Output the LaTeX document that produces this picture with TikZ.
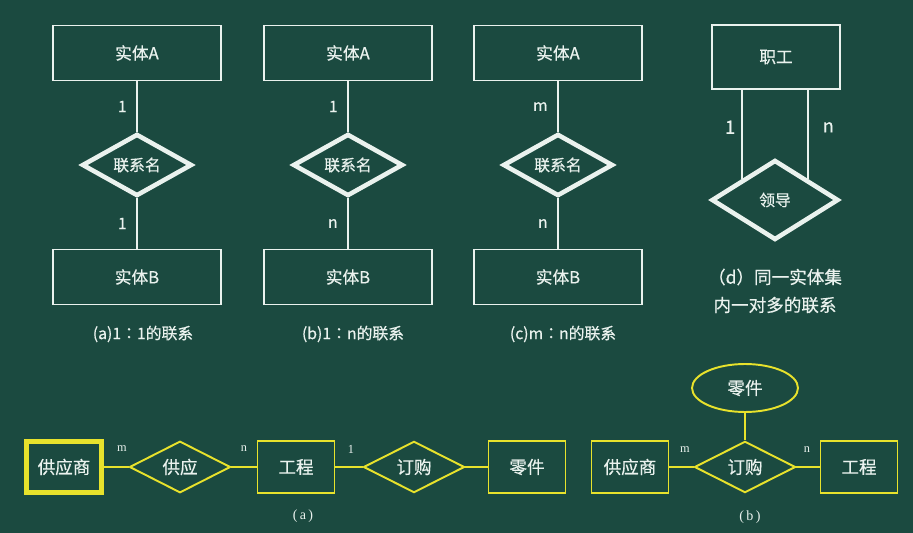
\documentclass[tikz,border=0pt]{standalone}
\usepackage{fontspec}
\setmainfont{Noto Sans CJK SC}[FakeBold=0.5]
\newfontfamily\captfont{Noto Sans CJK TC}[FakeBold=0.5]
\newfontfamily\latinserif{Liberation Serif}
\usetikzlibrary{shapes.geometric}
\definecolor{board}{HTML}{1B4A40}
\definecolor{chalk}{HTML}{EAF2EE}
\definecolor{hilite}{HTML}{E8E22C}

\begin{document}
\begin{tikzpicture}[x=0.02cm,y=-0.02cm,
			ent/.style={draw=chalk,line width=1.1pt,minimum width=3.36cm,minimum height=1.1cm,text=chalk,font=\fontsize{9.5}{11}\selectfont},
			rel/.style={diamond,draw=chalk,line width=2.6pt,inner sep=0pt,minimum width=2.2cm,minimum height=1.06cm,text=chalk,font=\fontsize{9}{11}\selectfont},
			link/.style={draw=chalk,line width=1.1pt},
			card/.style={text=chalk,font=\fontsize{9}{11}\selectfont},
			capt/.style={text=chalk,font=\captfont\fontsize{9}{11}\selectfont},
			yent/.style={draw=hilite,line width=1.1pt,minimum width=1.54cm,minimum height=1.04cm,text=chalk,font=\fontsize{10}{12}\selectfont},
			yrel/.style={diamond,draw=hilite,line width=1.1pt,inner sep=0pt,minimum width=2.02cm,minimum height=1.02cm,text=chalk,font=\fontsize{10}{12}\selectfont},
			ylink/.style={draw=hilite,line width=1.1pt},
			ycard/.style={text=chalk,font=\latinserif\fontsize{7}{8}\selectfont}]
			
			% Board
			\fill[board] (0,0) rectangle (913,533);
			\useasboundingbox (0,0) rectangle (913,533);
			
			% (a) 1:1
			\node[ent] (A1) at (137,53) {实体A};
			\node[rel] (R1) at (137,165) {联系名};
			\node[ent] (B1) at (137,277) {实体B};
			\draw[link] (A1) -- node[card,left=2pt]{1} (R1);
			\draw[link] (R1) -- node[card,left=2pt]{1} (B1);
			\node[capt] (capA) at (143,334) {(a)1：1的联系};
			
			% (b) 1:n
			\node[ent] (A2) at (348,53) {实体A};
			\node[rel] (R2) at (348,165) {联系名};
			\node[ent] (B2) at (348,277) {实体B};
			\draw[link] (A2) -- node[card,left=2pt]{1} (R2);
			\draw[link] (R2) -- node[card,left=2pt]{n} (B2);
			\node[capt] (capB) at (353,334) {(b)1：n的联系};
			
			% (c) m:n
			\node[ent] (A3) at (558,53) {实体A};
			\node[rel] (R3) at (558,165) {联系名};
			\node[ent] (B3) at (558,277) {实体B};
			\draw[link] (A3) -- node[card,left=2pt]{m} (R3);
			\draw[link] (R3) -- node[card,left=2pt]{n} (B3);
			\node[capt] (capC) at (563,334) {(c)m：n的联系};
			
			% (d) one entity set, 1:n
			\node[ent,minimum width=2.56cm,minimum height=1.28cm] (E4) at (776,57) {职工};
			\node[rel,minimum width=2.54cm,minimum height=1.6cm] (R4) at (775,200) {领导};
			\draw[link] (R4.north west |- E4.south) -- node[card,left,pos=0.42,font=\fontsize{10.5}{12}\selectfont]{1} (R4.north west);
			\draw[link] (R4.north east |- E4.south) -- node[card,right=4.5pt,pos=0.42,font=\fontsize{10.5}{12}\selectfont]{n} (R4.north east);
			\node[capt,font=\fontsize{10}{12}\selectfont] (capD1) at (775,277) {（d）同一实体集};
			\node[capt,font=\fontsize{10}{12}\selectfont] (capD2) at (775,305) {内一对多的联系};
			
			% Bottom (a): chain of two relationships
			\node[yent,line width=2.8pt,minimum width=1.5cm,minimum height=1.02cm] (S1) at (64,467) {供应商};
			\node[yrel] (G1) at (180,467) {供应};
			\node[yent] (P1) at (296,467) {工程};
			\node[yrel] (D1) at (414,467) {订购};
			\node[yent] (J1) at (527,467) {零件};
			\draw[ylink] (S1) -- (G1);
			\draw[ylink] (G1) -- (P1);
			\draw[ylink] (P1) -- (D1);
			\draw[ylink] (D1) -- (J1);
			\node[ycard] (m1) at (122,449) {m};
			\node[ycard] (n1) at (244,449) {n};
			\node[ycard] (l1) at (351,449) {1};
			\node[ycard,font=\latinserif\fontsize{8}{10}\selectfont] (capE) at (303,516) {(\,a\,)};
			
			% Bottom (b): ternary relationship
			\node[ellipse,draw=hilite,line width=1.1pt,minimum width=2.12cm,minimum height=0.96cm,text=chalk,font=\fontsize{10}{12}\selectfont] (J2) at (745,388) {零件};
			\node[yent] (S2) at (630,467) {供应商};
			\node[yrel] (D2) at (745,467) {订购};
			\node[yent] (P2) at (859,467) {工程};
			\draw[ylink] (S2) -- (D2);
			\draw[ylink] (D2) -- (P2);
			\draw[ylink] (J2) -- (D2);
			\node[ycard] (m2) at (685,450) {m};
			\node[ycard] (n2) at (807,450) {n};
			\node[ycard,font=\latinserif\fontsize{8}{10}\selectfont] (capF) at (750,517) {(\,b\,)};
			
		\end{tikzpicture}
\end{document}
